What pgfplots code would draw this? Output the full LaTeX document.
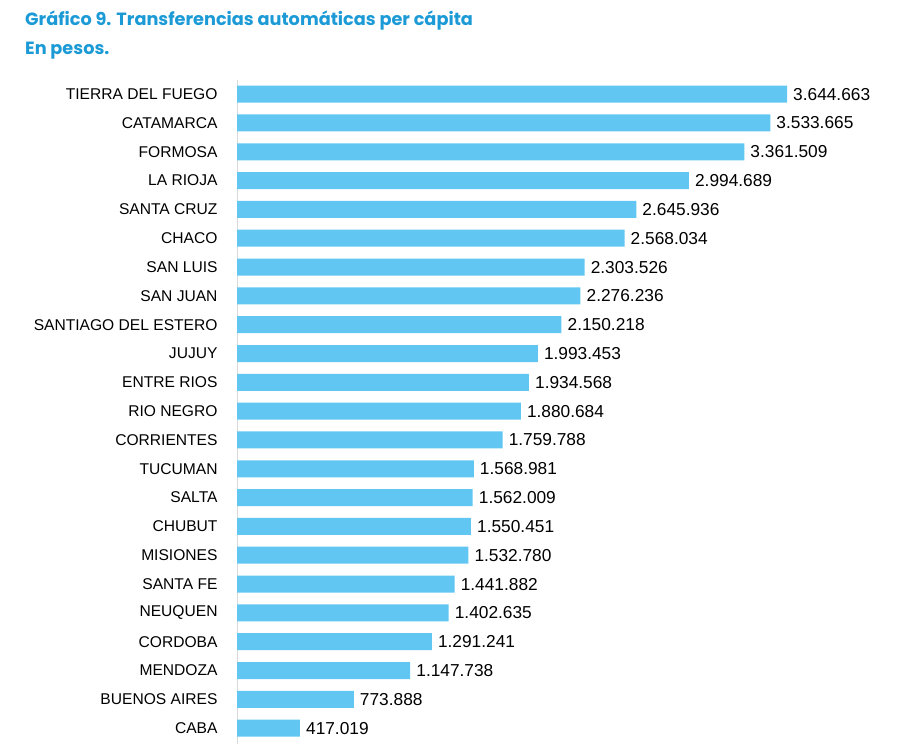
\documentclass[border=0pt]{standalone}
\usepackage{pgfplots}
\pgfplotsset{compat=1.18}
\usepackage{pgfplotstable}
\usepackage{fontspec}
\setmainfont{Liberation Sans}
\newfontfamily\titlefont{Poppins}
\definecolor{barblue}{HTML}{62C6F2}
\definecolor{titleblue}{HTML}{1B9AD6}
\pgfplotstableread[col sep=comma]{
idx,val,lab,name
0,3644663,3.644.663,TIERRA DEL FUEGO
1,3533665,3.533.665,CATAMARCA
2,3361509,3.361.509,FORMOSA
3,2994689,2.994.689,LA RIOJA
4,2645936,2.645.936,SANTA CRUZ
5,2568034,2.568.034,CHACO
6,2303526,2.303.526,SAN LUIS
7,2276236,2.276.236,SAN JUAN
8,2150218,2.150.218,SANTIAGO DEL ESTERO
9,1993453,1.993.453,JUJUY
10,1934568,1.934.568,ENTRE RIOS
11,1880684,1.880.684,RIO NEGRO
12,1759788,1.759.788,CORRIENTES
13,1568981,1.568.981,TUCUMAN
14,1562009,1.562.009,SALTA
15,1550451,1.550.451,CHUBUT
16,1532780,1.532.780,MISIONES
17,1441882,1.441.882,SANTA FE
18,1402635,1.402.635,NEUQUEN
19,1291241,1.291.241,CORDOBA
20,1147738,1.147.738,MENDOZA
21,773888,773.888,BUENOS AIRES
22,417019,417.019,CABA
}\datatable
\begin{document}
\begin{tikzpicture}
\path[use as bounding box] (0pt,0pt) rectangle (905pt,-750pt);
\node[anchor=base west, font=\titlefont\bfseries\fontsize{17.7}{20}\selectfont, text=titleblue, inner sep=0pt] at (25pt,-25pt) {Gráfico 9. Transferencias automáticas per cápita};
\node[anchor=base west, font=\titlefont\bfseries\fontsize{17.7}{20}\selectfont, text=titleblue, inner sep=0pt] at (25pt,-54pt) {En pesos.};
\begin{axis}[at={(237pt,-80pt)}, anchor=north west, scale only axis,
  width=650pt, height=664pt,
  xmin=0, xmax=4307329, ymin=-0.49, ymax=22.55, y dir=reverse,
  axis x line=none, axis y line=left,
  y axis line style={-, draw=black!15, line width=0.8pt},
  ytick=data, yticklabels from table={\datatable}{name},
  ytick style={draw=none},
  yticklabel style={font=\fontsize{15.6}{15.6}\selectfont, inner sep=0pt, xshift=-15pt},
  xbar, bar width=17pt, bar shift=0pt,
  nodes near coords, point meta=explicit symbolic,
  nodes near coords style={font=\fontsize{17.3}{17}\selectfont, anchor=west, inner sep=0pt, xshift=6pt, text=black},
  clip=false]
\addplot[fill=barblue, draw=none] table[x=val, y=idx, meta=lab] {\datatable};
\end{axis}
\end{tikzpicture}
\end{document}
